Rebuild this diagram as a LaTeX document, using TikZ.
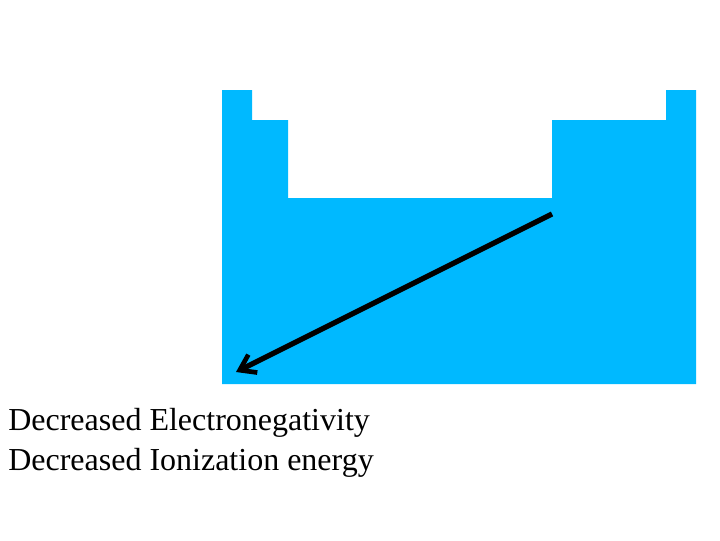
\documentclass[tikz,border=0pt]{standalone}
\usepackage{fontspec}
\setmainfont{Liberation Serif}
\usetikzlibrary{arrows.meta}
\definecolor{tableblue}{HTML}{00B9FF}
\tikzset{
  tableshape/.style={fill=tableblue, draw=none},
  trendarrow/.style={draw=black, line width=4pt, -{Straight Barb[length=11pt,width=15pt,line width=3.5pt]}},
  trendlabel/.style={anchor=base west, inner sep=0pt, font=\fontsize{24pt}{30pt}\selectfont}
}
\begin{document}
\begin{tikzpicture}[x=0.75pt, y=-0.75pt]
\useasboundingbox (0,0) rectangle (720,540);
\fill[tableshape] (222,90) -- (252,90) -- (252,120) -- (288,120) -- (288,198) -- (552,198) -- (552,120) -- (666,120) -- (666,90) -- (696,90) -- (696,384) -- (222,384) -- cycle;
\coordinate (start) at (552,214);
\coordinate (tip) at (236,372);
\draw[trendarrow] (start) -- (tip);
\node[trendlabel] (l1) at (8,430) {Decreased Electronegativity};
\node[trendlabel] (l2) at (8,470) {Decreased Ionization energy};
\end{tikzpicture}
\end{document}
